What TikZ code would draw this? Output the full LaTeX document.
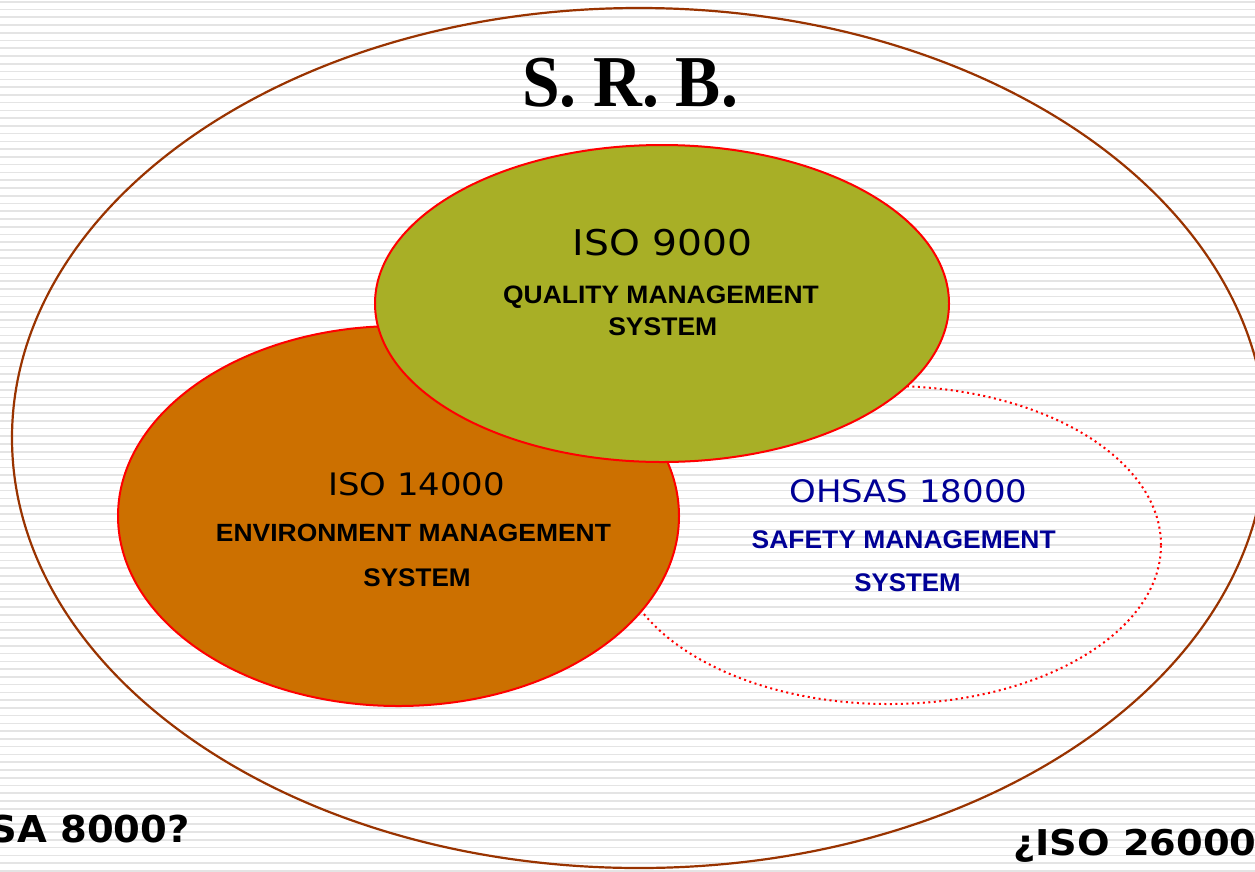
\documentclass[tikz,border=0pt]{standalone}
\usepackage{fontspec}
\setmainfont{Liberation Serif}
\newfontfamily\verdfont{DejaVu Sans}
\newfontfamily\arialfont{Liberation Sans}
\usetikzlibrary{shapes.geometric}
\definecolor{stripegray}{RGB}{228,228,228}
\definecolor{outerbrown}{RGB}{153,51,0}
\definecolor{ringred}{RGB}{255,0,0}
\definecolor{qualgreen}{RGB}{168,175,38}
\definecolor{envorange}{RGB}{204,112,0}
\definecolor{safeblue}{RGB}{0,0,150}
\newcommand{\fittext}[3]{\resizebox{#1pt}{#2pt}{#3}}
\begin{document}
\begin{tikzpicture}[x=1pt,y=-1pt,
  stripe/.style={draw=stripegray,line width=1.6pt},
  outerring/.style={ellipse,draw=outerbrown,line width=2.2pt,inner sep=0pt},
  setring/.style={ellipse,draw=ringred,line width=2pt,inner sep=0pt},
  dotring/.style={ellipse,draw=ringred,line width=2pt,inner sep=0pt,dash pattern=on 2pt off 3.5pt},
  txt/.style={inner sep=0pt,anchor=base}]
\useasboundingbox (0,0) rectangle (1255,871);
\clip (0,0) rectangle (1255,871);
\fill[white] (0,0) rectangle (1255,871);
\foreach \i in {0,...,112}{
  \draw[stripe] (0,1.7+7.76*\i) -- (1255,1.7+7.76*\i);
}
% outer ring
\node[outerring,minimum width=1254pt,minimum height=860pt] (srbring) at (639,438) {};
% safety ring (dotted, behind)
\node[dotring,minimum width=544pt,minimum height=318pt] (safering) at (889,545) {};
% environment ring
\node[setring,fill=envorange,minimum width=561pt,minimum height=380pt] (envring) at (398.5,516) {};
% quality ring
\node[setring,fill=qualgreen,minimum width=574pt,minimum height=317pt] (qualring) at (662,303.5) {};
% title
\node[txt] (srb) at (630,106) {\fittext{216}{48.4}{\bfseries S. R. B.}};
% quality texts
\node[txt] (iso9) at (662.5,255.7) {\fittext{179.6}{26.3}{\verdfont ISO 9000}};
\node[txt] (qual1) at (661,303.3) {\fittext{315.7}{17.6}{\arialfont\bfseries QUALITY MANAGEMENT}};
\node[txt] (qual2) at (662.8,335) {\fittext{109}{17.8}{\arialfont\bfseries SYSTEM}};
% environment texts
\node[txt] (iso14) at (416.7,495) {\fittext{176.7}{23}{\verdfont ISO 14000}};
\node[txt] (env1) at (413.5,541.7) {\fittext{395}{17.4}{\arialfont\bfseries ENVIRONMENT MANAGEMENT}};
\node[txt] (env2) at (417,586.5) {\fittext{107.3}{17.8}{\arialfont\bfseries SYSTEM}};
% safety texts
\node[txt,text=safeblue] (ohsas) at (908.3,502.3) {\fittext{238}{23}{\verdfont OHSAS 18000}};
\node[txt,text=safeblue] (safe1) at (903.7,548.3) {\fittext{304}{17.8}{\arialfont\bfseries SAFETY MANAGEMENT}};
\node[txt,text=safeblue] (safe2) at (907.5,591.7) {\fittext{106.3}{17.8}{\arialfont\bfseries SYSTEM}};
% corner texts
\node[inner sep=0pt,anchor=base east] (sa8000) at (190,842.3) {\scalebox{1.04}[1]{\verdfont\bfseries\fontsize{37}{40}\selectfont SA 8000?}};
\node[inner sep=0pt,anchor=base west] (iso26) at (1013,855) {\scalebox{1.08}[1]{\verdfont\bfseries\fontsize{35.5}{40}\selectfont ¿ISO 26000}};
\end{tikzpicture}
\end{document}
